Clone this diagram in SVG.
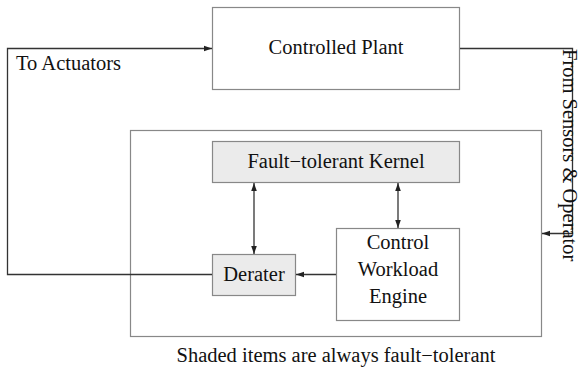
<svg xmlns="http://www.w3.org/2000/svg" width="582" height="376" viewBox="0 0 582 376">
<style>
.box{fill:#fff;stroke:#888;stroke-width:1.2}
.shaded{fill:#ebebeb;stroke:#888;stroke-width:1.2}
.ln{fill:none;stroke:#333;stroke-width:1.3}
text{font-family:"Liberation Serif","Times New Roman",serif;font-size:20.5px;fill:#111}
.c{text-anchor:middle}
</style>
<defs>
<marker id="ah" viewBox="0 0 10 10" refX="10" refY="5" markerWidth="8" markerHeight="8" markerUnits="userSpaceOnUse" orient="auto-start-reverse">
<path d="M0,1.5 L10,5 L0,8.5 Z" fill="#222"/>
</marker>
</defs>
<rect x="0" y="0" width="582" height="376" fill="#fff"/>
<g id="outer"><rect class="box" x="130.5" y="130.5" width="411" height="206"/></g>
<g id="plant"><rect class="box" x="212.5" y="7.5" width="247" height="82"/><text class="c" x="336" y="54">Controlled Plant</text></g>
<g id="kernel"><rect class="shaded" x="212.5" y="141.5" width="247" height="41"/><text class="c" x="336" y="168">Fault−tolerant Kernel</text></g>
<g id="derater"><rect class="shaded" x="212.5" y="254.5" width="83" height="41"/><text class="c" x="254" y="281">Derater</text></g>
<g id="engine"><rect class="box" x="336.5" y="228.5" width="123" height="92"/><text class="c" x="398" y="249">Control</text><text class="c" x="398" y="276">Workload</text><text class="c" x="398" y="303">Engine</text></g>
<g id="connectors">
<path class="ln" d="M212,274.5 H7.5 V48.5 H212" marker-end="url(#ah)"/>
<path class="ln" d="M460,48.5 H572.5 V233.5 H542" marker-end="url(#ah)"/>
<path class="ln" d="M254,183 V254" marker-start="url(#ah)" marker-end="url(#ah)"/>
<path class="ln" d="M398,183 V228" marker-start="url(#ah)" marker-end="url(#ah)"/>
<path class="ln" d="M336,274.5 H296" marker-end="url(#ah)"/>
</g>
<g id="labels">
<text x="16" y="70">To Actuators</text>
<text transform="translate(563,49) rotate(90)">From Sensors &amp; Operator</text>
<text class="c" x="336" y="362">Shaded items are always fault−tolerant</text>
</g>
</svg>
